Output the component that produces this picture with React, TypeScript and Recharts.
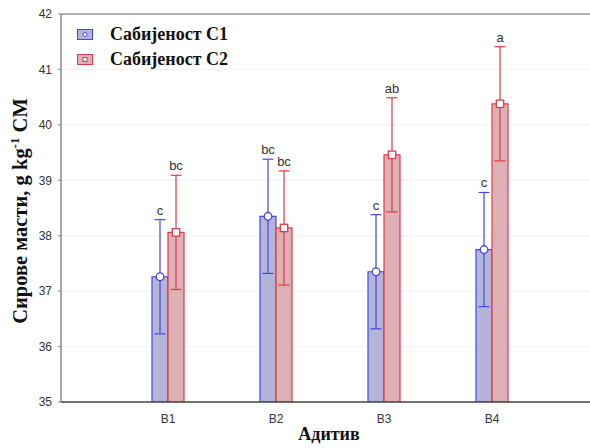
import React from "react";
import {
  BarChart,
  Bar,
  XAxis,
  YAxis,
  CartesianGrid,
  ErrorBar,
  LabelList,
  ReferenceLine,
} from "recharts";

// Additive treatments on the x axis
const categories = ["B1", "B2", "B3", "B4"];
// Crude fat means (g kg-1 DM) for the two compaction levels
const c1Values = [37.26, 38.35, 37.35, 37.75];
const c2Values = [38.06, 38.14, 39.46, 40.38];
// Error bar half-ranges
const c1Errors = [1.03, 1.03, 1.03, 1.03];
const c2Errors = [1.03, 1.03, 1.03, 1.03];
// Significance letters above each error bar
const c1Letters = ["c", "bc", "c", "c"];
const c2Letters = ["bc", "bc", "ab", "a"];
const yTicks = [35, 36, 37, 38, 39, 40, 41, 42];
const seriesNames = ["Сабијеност С1", "Сабијеност С2"];

const data = categories.map((cat, i) => ({
  cat,
  c1: c1Values[i],
  c2: c2Values[i],
  c1Err: c1Errors[i],
  c2Err: c2Errors[i],
}));

const BLUE_FILL = "#b4b4d8";
const BLUE_STROKE = "#4646e0";
const RED_FILL = "#dcb0b4";
const RED_STROKE = "#e23a48";
const BASE = 35;
const SERIF = "Liberation Serif, Times New Roman, serif";
const SANS = "Liberation Sans, Arial, sans-serif";

const makeMarker = (
  values: number[],
  errors: number[],
  letters: string[],
  kind: "circle" | "square",
  stroke: string
) =>
  (props: any) => {
    const vb = props.viewBox || props;
    const x = Number(vb.x ?? props.x);
    const y = Number(vb.y ?? props.y);
    const w = Number(vb.width ?? props.width);
    const h = Number(vb.height ?? props.height);
    const i = props.index as number;
    const v = values[i];
    const pxPerUnit = h / (v - BASE);
    const errTop = y - errors[i] * pxPerUnit;
    const cx = x + w / 2;
    return (
      <g>
        {kind === "circle" ? (
          <circle cx={cx} cy={y} r={3.8} fill="#fff" stroke={stroke} strokeWidth={1.3} />
        ) : (
          <rect x={cx - 3.7} y={y - 3.7} width={7.4} height={7.4} fill="#fff" stroke={stroke} strokeWidth={1.3} />
        )}
        <text x={cx} y={errTop - 5} textAnchor="middle" fontFamily={SANS} fontSize={13} fill="#333">
          {letters[i]}
        </text>
      </g>
    );
  };

const LegendBox = () => (
  <div
    style={{
      position: "absolute",
      left: 77,
      top: 22,
      fontFamily: SERIF,
      fontWeight: "bold",
      fontSize: 18,
      color: "#111",
      pointerEvents: "none",
    }}
  >
    {[
      { name: seriesNames[0], fill: BLUE_FILL, stroke: BLUE_STROKE, kind: "circle" },
      { name: seriesNames[1], fill: RED_FILL, stroke: RED_STROKE, kind: "square" },
    ].map((it) => (
      <div key={it.name} style={{ display: "flex", alignItems: "center", height: 25, whiteSpace: "nowrap" }}>
        <svg width={16} height={11} style={{ marginRight: 17 }}>
          <rect x={0.5} y={0.5} width={15} height={10} fill={it.fill} stroke={it.stroke} strokeWidth={1} />
          {it.kind === "circle" ? (
            <circle cx={8} cy={5.5} r={2} fill="#fff" stroke={it.stroke} strokeWidth={1} />
          ) : (
            <rect x={6} y={3.5} width={4} height={4} fill="#fff" stroke={it.stroke} strokeWidth={1} />
          )}
        </svg>
        <span>{it.name}</span>
      </div>
    ))}
  </div>
);

const YLabel = () => (
  <text
    transform="translate(27, 211) rotate(-90)"
    textAnchor="middle"
    fontFamily={SERIF}
    fontWeight="bold"
    fontSize={20.5}
    fill="#111"
  >
    <tspan>Сирове масти, g kg</tspan>
    <tspan dy={-8} fontSize={13}>-1</tspan>
    <tspan dy={8}> СМ</tspan>
  </text>
);

const XLabel = () => (
  <text x={329} y={440} textAnchor="middle" fontFamily={SERIF} fontWeight="bold" fontSize={18} fill="#111">
    Адитив
  </text>
);

export default function App() {
  return (
    <div
      style={{
        position: "fixed",
        left: 0,
        top: 0,
        width: 590,
        height: 448,
        overflow: "hidden",
        background: "#fff",
      }}
    >
      <BarChart
        width={620}
        height={448}
        data={data}
        margin={{ top: 14, right: 24, bottom: 0, left: 0 }}
        barGap={0}
        barSize={16}
      >
        <CartesianGrid vertical={false} stroke="#f0f0f0" />
        <XAxis
          dataKey="cat"
          padding={{ left: 53, right: 50 }}
          axisLine={{ stroke: "#444", strokeWidth: 1.5 }}
          tickLine={false}
          tickMargin={6}
          height={46}
          tick={{ fontFamily: SANS, fontSize: 12, fill: "#333" }}
          label={{ content: () => <XLabel /> }}
        />
        <YAxis
          width={61}
          domain={[35, 42]}
          ticks={yTicks}
          allowDataOverflow
          axisLine={{ stroke: "#888", strokeWidth: 1.5 }}
          tickLine={{ stroke: "#888" }}
          tickSize={3}
          tickMargin={6}
          tick={{ fontFamily: SANS, fontSize: 12, fill: "#333" }}
          label={{ content: () => <YLabel /> }}
        />
        <ReferenceLine y={42} stroke="#999" strokeWidth={1.5} />
        <Bar
          dataKey="c1"
          name={seriesNames[0]}
          fill={BLUE_FILL}
          stroke={BLUE_STROKE}
          strokeWidth={1.2}
          isAnimationActive={false}
        >
          <ErrorBar dataKey="c1Err" width={5.5} stroke={BLUE_STROKE} strokeWidth={1.2} direction="y" />
          <LabelList dataKey="c1" content={makeMarker(c1Values, c1Errors, c1Letters, "circle", BLUE_STROKE)} />
        </Bar>
        <Bar
          dataKey="c2"
          name={seriesNames[1]}
          fill={RED_FILL}
          stroke={RED_STROKE}
          strokeWidth={1.2}
          isAnimationActive={false}
        >
          <ErrorBar dataKey="c2Err" width={5.5} stroke={RED_STROKE} strokeWidth={1.2} direction="y" />
          <LabelList dataKey="c2" content={makeMarker(c2Values, c2Errors, c2Letters, "square", RED_STROKE)} />
        </Bar>
      </BarChart>
      <LegendBox />
    </div>
  );
}
